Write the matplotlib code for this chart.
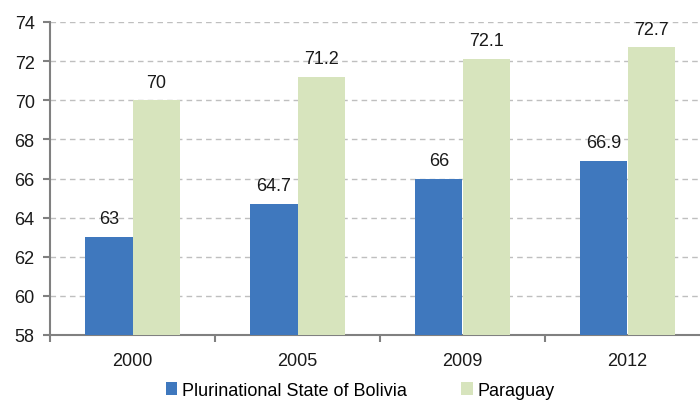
import matplotlib
matplotlib.use("Agg")
import matplotlib.pyplot as plt
import numpy as np

years = ["2000", "2005", "2009", "2012"]
bolivia = [63, 64.7, 66, 66.9]
paraguay = [70, 71.2, 72.1, 72.7]
series_names = ["Plurinational State of Bolivia", "Paraguay"]
yticks = [58, 60, 62, 64, 66, 68, 70, 72, 74]

plt.rcParams['font.family'] = ['Liberation Sans', 'DejaVu Sans']
blue = "#3F78BE"
green = "#D7E4BD"
fs = 13

fig = plt.figure(figsize=(7.0, 4.02), dpi=100)
ax = fig.add_axes([50/700, 66/402, 660/700, 313/402])

x = np.arange(len(years))
w = 0.285
b1 = ax.bar(x - w/2, bolivia, w, color=blue, label=series_names[0], zorder=3)
b2 = ax.bar(x + w/2, paraguay, w, color=green, label=series_names[1], zorder=3)

for rect, v in list(zip(b1, bolivia)) + list(zip(b2, paraguay)):
    ax.annotate(f"{v:g}", (rect.get_x() + rect.get_width()/2, v),
                xytext=(0, 7), textcoords="offset points",
                ha="center", va="bottom", fontsize=fs, color="#1a1a1a")

ax.set_ylim(58, 74)
ax.set_xlim(-0.5, len(years) - 0.5)
ax.set_yticks(yticks)
ax.set_yticklabels([str(t) for t in yticks], fontsize=fs, color="#1a1a1a")
ax.yaxis.grid(True, linestyle=(0, (4, 3)), color="#BFBFBF", linewidth=1, zorder=0)

ax.set_xticks(x)
ax.set_xticklabels(years, fontsize=fs, color="#1a1a1a")
ax.tick_params(axis='x', length=0, pad=12)
ax.set_xticks(np.arange(len(years) + 1) - 0.5, minor=True)
ax.tick_params(axis='x', which='minor', length=5, color="#808080", width=1.5)
ax.tick_params(axis='y', length=5, color="#808080", width=1.5, pad=6)

for s in ['top', 'right']:
    ax.spines[s].set_visible(False)
for s in ['left', 'bottom']:
    ax.spines[s].set_color("#808080")
    ax.spines[s].set_linewidth(1.5)

fig.legend(handles=[b1, b2], labels=series_names, loc="lower center",
           bbox_to_anchor=(360/700, -0.035), ncol=2, frameon=False, fontsize=fs,
           handlelength=0.65, handleheight=0.65, handletextpad=0.25, columnspacing=3.0)

fig.savefig("out.png", dpi=100)
